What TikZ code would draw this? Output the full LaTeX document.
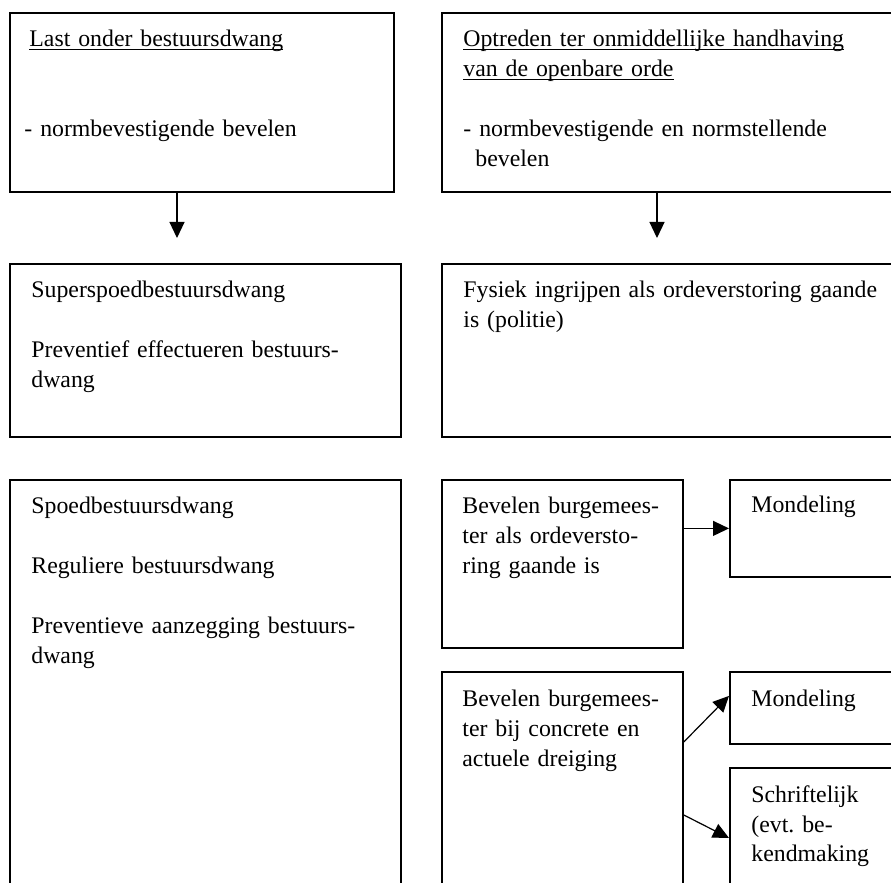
\documentclass[tikz,border=0pt]{standalone}
\usepackage{fontspec}
\setmainfont{Liberation Serif}
\usetikzlibrary{arrows.meta}

\newcommand{\ulined}[1]{\leavevmode\setbox0\hbox{#1}\rlap{\rule[-1.6pt]{\wd0}{0.6pt}}\box0}

\begin{document}
\frenchspacing
\begin{tikzpicture}[
  x=0.5pt, y=-0.5pt,
  box/.style={draw, line width=0.9pt, anchor=north west, inner sep=0pt},
  boxtext/.style={anchor=base west, align=left, inner sep=0pt,
    font=\fontsize{11.9pt}{15pt}\selectfont, text width=#1},
  link/.style={-{Triangle[length=8pt, width=7.5pt]}, line width=0.6pt},
]

\clip (0,0) rectangle (891,883);

% --- Top row ---
\node[box, minimum width=192pt, minimum height=89.5pt] (b1) at (9,12) {};
\node[box, minimum width=229.5pt, minimum height=89.5pt] (b2) at (441,12) {};
\node[boxtext=180pt] (t1) at ([xshift=7.5pt, yshift=-17.5pt]b1.north west)
  {\hspace*{2.5pt}\ulined{Last onder bestuursdwang}\\[30pt]- normbevestigende bevelen};
\node[boxtext=210pt] (t2) at ([xshift=11pt, yshift=-17.5pt]b2.north west)
  {\ulined{Optreden ter onmiddellijke handhaving}\\\ulined{van de openbare orde}\\[15pt]%
   - normbevestigende en normstellende\\\hspace*{6pt}bevelen};

% --- Second row ---
\node[box, minimum width=195.5pt, minimum height=86.5pt] (b3) at (9,263) {};
\node[box, minimum width=229.5pt, minimum height=86.5pt] (b4) at (441,263) {};
\node[boxtext=180pt] (t3) at ([xshift=11pt, yshift=-17.5pt]b3.north west)
  {Superspoedbestuursdwang\\[15pt]Preventief effectueren bestuurs-\\dwang};
\node[boxtext=215pt] (t4) at ([xshift=11pt, yshift=-17.5pt]b4.north west)
  {Fysiek ingrijpen als ordeverstoring gaande\\is (politie)};

% --- Arrows between rows ---
\coordinate (d1) at (177,238);
\coordinate (d2) at (657,238);
\draw[link] (d1 |- b1.south) -- (d1);
\draw[link] (d2 |- b2.south) -- (d2);

% --- Bottom left ---
\node[box, minimum width=195.5pt, minimum height=210.5pt] (b5) at (9,479) {};
\node[boxtext=180pt] (t5) at ([xshift=11pt, yshift=-17.5pt]b5.north west)
  {Spoedbestuursdwang\\[15pt]Reguliere bestuursdwang\\[15pt]%
   Preventieve aanzegging bestuurs-\\dwang};

% --- Bottom right: bevelen burgemeester ---
\node[box, minimum width=120.5pt, minimum height=84pt] (b6) at (441,479) {};
\node[box, minimum width=120.5pt, minimum height=114.5pt] (b8) at (441,671) {};
\node[boxtext=105pt] (t6) at ([xshift=10.5pt, yshift=-17.5pt]b6.north west)
  {Bevelen burgemees-\\ter als ordeversto-\\ring gaande is};
\node[boxtext=105pt] (t8) at ([xshift=10.5pt, yshift=-17.5pt]b8.north west)
  {Bevelen burgemees-\\ter bij concrete en\\actuele dreiging};

% --- Mondeling / schriftelijk ---
\node[box, minimum width=85.5pt, minimum height=48.5pt] (b7) at (729,479) {};
\node[box, minimum width=85.5pt, minimum height=36pt] (b9) at (729,671) {};
\node[box, minimum width=85.5pt, minimum height=66.5pt] (b10) at (729,767) {};
\node[boxtext=70pt] (t7) at ([xshift=11pt, yshift=-17pt]b7.north west) {Mondeling};
\node[boxtext=70pt] (t9) at ([xshift=11pt, yshift=-17.5pt]b9.north west) {Mondeling};
\node[boxtext=70pt] (t10) at ([xshift=11pt, yshift=-17.5pt]b10.north west)
  {Schriftelijk\\(evt. be-\\kendmaking};

\draw[link] (b7.west -| b6.east) -- (b7.west);
\draw[link] ([yshift=-35.5pt]b8.north east) -- ([yshift=6pt]b9.west);
\draw[link] ([yshift=-72pt]b8.north east) -- ([yshift=-35.5pt]b10.north west);

\end{tikzpicture}
\end{document}
